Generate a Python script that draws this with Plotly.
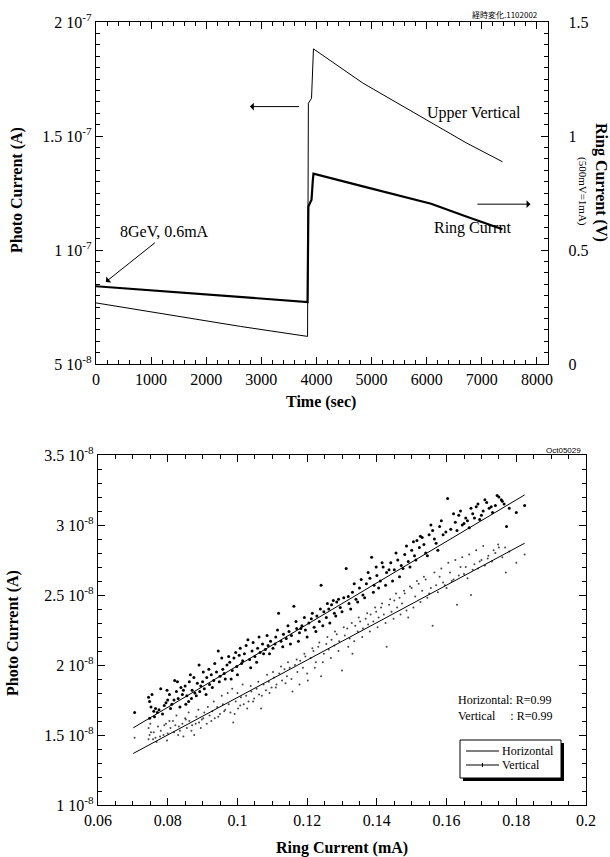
import numpy as np
import plotly.graph_objects as go

W, H = 610, 857
FONT = "Liberation Serif"


def px(x):
    return x / W


def py(y):
    return 1 - y / H


# ---------------- top chart data ----------------
time_sec = [0, 1060, 2616, 3838, 3853, 3910, 3932, 3945, 4842, 6079, 6716, 7374]
upper_vertical_A = [7.68e-8, 7.26e-8, 6.65e-8, 6.21e-8, 1.644e-7, 1.665e-7,
                    1.80e-7, 1.882e-7, 1.732e-7, 1.559e-7, 1.470e-7, 1.387e-7]
ring_current_V = [0.341, 0.322, 0.294, 0.272, 0.691, 0.720,
                  0.800, 0.835, 0.779, 0.703, 0.647, 0.591]

top_y_ticks = [5e-8, 1e-7, 1.5e-7, 2e-7]
top_y_labels = ["5 10<sup>-8</sup>", "1 10<sup>-7</sup>", "1.5 10<sup>-7</sup>", "2 10<sup>-7</sup>"]
top_x_ticks = [0, 1000, 2000, 3000, 4000, 5000, 6000, 7000, 8000]
right_ticks = [0, 0.5, 1, 1.5]
right_labels = ["0", "0.5", "1", "1.5"]

# ---------------- bottom chart data (photo current in units of 1e-8 A) ----------------
horiz_mA_a = [0.0705, 0.0745, 0.0748, 0.0752, 0.0760, 0.0765, 0.0770, 0.0780, 0.0790, 0.0795,
              0.0800, 0.0805, 0.0812, 0.0820, 0.0825, 0.0830, 0.0838, 0.0842, 0.0850, 0.0855,
              0.0860, 0.0865, 0.0870, 0.0878, 0.0885, 0.0890, 0.0895, 0.0900, 0.0905, 0.0912,
              0.0920, 0.0925, 0.0932, 0.0940, 0.0945, 0.0950, 0.0958, 0.0965, 0.0970, 0.0978,
              0.0985, 0.0990, 0.0998, 0.1005, 0.1012, 0.1020, 0.1030, 0.1035, 0.1042, 0.1050,
              0.1058, 0.1065, 0.1072, 0.1080, 0.1088, 0.1095, 0.1102, 0.1110, 0.1118, 0.1125,
              0.1132, 0.1140, 0.1148, 0.1155, 0.1162, 0.1170, 0.1178, 0.1185, 0.1195, 0.1205,
              0.1212, 0.1220, 0.1228, 0.1235, 0.1240, 0.1248, 0.1255, 0.1262, 0.1270, 0.1278,
              0.1285, 0.1295, 0.1305, 0.1312, 0.1320, 0.1330, 0.1340, 0.1350, 0.1360, 0.1370,
              0.1380, 0.1385, 0.1392, 0.1400, 0.1410, 0.1418, 0.1428, 0.1440, 0.1450, 0.1460,
              0.1470, 0.1480, 0.1490, 0.1500, 0.1508, 0.1515, 0.1522, 0.1530, 0.1540, 0.1550,
              0.1560, 0.1570, 0.1580, 0.1590, 0.1603, 0.1612, 0.1625, 0.1635, 0.1645, 0.1655,
              0.1665, 0.1675, 0.1685, 0.1695, 0.1705, 0.1715, 0.1722, 0.1732, 0.1740, 0.1750,
              0.1757, 0.1765, 0.1772, 0.1800, 0.1824]
horiz_pc_a = [1.66, 1.77, 1.74, 1.70, 1.67, 1.69, 1.66, 1.83, 1.71, 1.73,
              1.75, 1.79, 1.72, 1.89, 1.81, 1.76, 1.84, 1.79, 1.85, 1.78,
              1.74, 1.93, 1.82, 1.80, 1.87, 2.00, 1.85, 1.88, 1.83, 1.91,
              1.86, 1.93, 1.89, 1.95, 2.10, 1.92, 1.97, 1.90, 2.00, 2.02,
              1.96, 2.05, 1.99, 2.07, 2.01, 2.08, 2.18, 2.04, 2.10, 2.06,
              2.12, 2.09, 2.15, 2.11, 2.14, 2.17, 2.12, 2.20, 2.37, 2.17,
              2.22, 2.19, 2.24, 2.21, 2.42, 2.26, 2.23, 2.28, 2.25, 2.30,
              2.33, 2.27, 2.35, 2.31, 2.57, 2.38, 2.34, 2.40, 2.43, 2.37,
              2.45, 2.41, 2.48, 2.69, 2.44, 2.52, 2.47, 2.55, 2.50, 2.58,
              2.62, 2.77, 2.57, 2.64, 2.60, 2.70, 2.66, 2.73, 2.68, 2.75,
              2.71, 2.79, 2.74, 2.82, 2.78, 2.89, 2.84, 2.91, 2.80, 2.93,
              2.96, 2.87, 2.99, 2.93, 3.19, 2.97, 3.02, 3.07, 3.00, 3.05,
              2.98, 3.08, 3.13, 3.04, 3.10, 3.16, 3.12, 3.09, 3.14, 3.20,
              3.18, 3.15, 2.99, 3.09, 3.14]
horiz_mA_b = [0.0748, 0.0755, 0.0762, 0.0775, 0.0785, 0.0798, 0.0808, 0.0818, 0.0828, 0.0835,
              0.0845, 0.0852, 0.0862, 0.0868, 0.0875, 0.0882, 0.0892, 0.0902, 0.0910, 0.0918,
              0.0928, 0.0935, 0.0948, 0.0955, 0.0962, 0.0975, 0.0982, 0.0995, 0.1000, 0.1008,
              0.1015, 0.1025, 0.1038, 0.1045, 0.1055, 0.1062, 0.1075, 0.1085, 0.1092, 0.1108,
              0.1115, 0.1130, 0.1145, 0.1152, 0.1168, 0.1175, 0.1182, 0.1192, 0.1200, 0.1215,
              0.1225, 0.1238, 0.1245, 0.1258, 0.1265, 0.1275, 0.1282, 0.1290, 0.1300, 0.1318,
              0.1325, 0.1335, 0.1345, 0.1355, 0.1365, 0.1375, 0.1390, 0.1398, 0.1405, 0.1415,
              0.1425, 0.1435, 0.1445, 0.1455, 0.1465, 0.1475, 0.1485, 0.1495, 0.1505, 0.1512,
              0.1525, 0.1535, 0.1545, 0.1555, 0.1565, 0.1575, 0.1585, 0.1598, 0.1620, 0.1630,
              0.1640, 0.1650, 0.1660, 0.1670, 0.1680, 0.1690, 0.1700, 0.1710, 0.1728, 0.1745,
              0.1760, 0.1780]
horiz_pc_b = [1.62, 1.79, 1.63, 1.68, 1.65, 1.82, 1.69, 1.75, 1.88, 1.70,
              1.82, 1.72, 1.88, 1.76, 1.91, 1.78, 1.81, 1.95, 1.79, 1.97,
              1.84, 2.01, 1.88, 2.05, 1.94, 2.06, 1.90, 2.09, 1.93, 2.12,
              2.03, 2.14, 1.98, 2.16, 2.02, 2.20, 2.08, 2.21, 2.08, 2.15,
              2.25, 2.13, 2.28, 2.15, 2.31, 2.17, 2.26, 2.34, 2.20, 2.37,
              2.24, 2.40, 2.28, 2.44, 2.30, 2.46, 2.35, 2.47, 2.38, 2.49,
              2.40, 2.58, 2.45, 2.61, 2.48, 2.66, 2.52, 2.70, 2.55, 2.73,
              2.57, 2.68, 2.60, 2.80, 2.63, 2.69, 2.85, 2.70, 2.88, 2.75,
              2.92, 2.86, 2.78, 3.00, 2.90, 2.82, 3.03, 2.95, 3.08, 2.96,
              3.10, 3.01, 3.03, 3.12, 3.05, 3.15, 3.07, 3.18, 3.13, 3.21,
              3.17, 3.12]

vert_mA_a = [0.0705, 0.0745, 0.0748, 0.0752, 0.0758, 0.0765, 0.0772, 0.0780, 0.0788, 0.0795,
             0.0800, 0.0808, 0.0815, 0.0822, 0.0830, 0.0835, 0.0842, 0.0850, 0.0855, 0.0862,
             0.0870, 0.0876, 0.0882, 0.0890, 0.0898, 0.0905, 0.0912, 0.0920, 0.0928, 0.0935,
             0.0942, 0.0950, 0.0958, 0.0965, 0.0972, 0.0980, 0.0988, 0.0995, 0.1002, 0.1010,
             0.1018, 0.1025, 0.1032, 0.1040, 0.1048, 0.1055, 0.1062, 0.1068, 0.1075, 0.1082,
             0.1090, 0.1098, 0.1105, 0.1112, 0.1120, 0.1128, 0.1135, 0.1142, 0.1150, 0.1158,
             0.1165, 0.1172, 0.1180, 0.1188, 0.1195, 0.1202, 0.1210, 0.1218, 0.1225, 0.1232,
             0.1240, 0.1248, 0.1255, 0.1262, 0.1270, 0.1278, 0.1285, 0.1292, 0.1300, 0.1308,
             0.1315, 0.1322, 0.1330, 0.1338, 0.1345, 0.1352, 0.1360, 0.1368, 0.1375, 0.1382,
             0.1390, 0.1398, 0.1405, 0.1412, 0.1420, 0.1428, 0.1435, 0.1442, 0.1450, 0.1458,
             0.1465, 0.1472, 0.1480, 0.1490, 0.1500, 0.1510, 0.1520, 0.1530, 0.1540, 0.1550,
             0.1560, 0.1570, 0.1580, 0.1590, 0.1600, 0.1610, 0.1620, 0.1630, 0.1640, 0.1650,
             0.1660, 0.1670, 0.1680, 0.1690, 0.1700, 0.1710, 0.1720, 0.1730, 0.1740, 0.1750,
             0.1760, 0.1770, 0.1780, 0.1800, 0.1824]
vert_pc_a = [1.48, 1.55, 1.50, 1.52, 1.47, 1.48, 1.56, 1.53, 1.50, 1.58,
             1.51, 1.55, 1.60, 1.57, 1.50, 1.53, 1.58, 1.62, 1.55, 1.60,
             1.57, 1.50, 1.63, 1.59, 1.61, 1.66, 1.58, 1.64, 1.67, 1.62,
             1.70, 1.65, 1.72, 1.68, 1.80, 1.66, 1.59, 1.74, 1.69, 1.77,
             1.72, 1.78, 1.74, 1.81, 1.76, 1.83, 1.79, 1.69, 1.86, 1.82,
             1.88, 1.84, 1.91, 1.86, 1.94, 1.89, 1.97, 1.92, 1.98, 1.81,
             2.00, 1.95, 2.03, 1.98, 2.06, 1.89, 2.05, 2.10, 2.02, 2.13,
             1.92, 2.08, 2.15, 2.11, 2.18, 2.14, 2.22, 2.17, 1.96, 2.21,
             2.26, 2.19, 2.08, 2.28, 2.24, 2.31, 2.26, 2.33, 2.29, 2.36,
             2.31, 2.38, 2.34, 2.41, 2.36, 2.13, 2.43, 2.38, 2.46, 2.41,
             2.48, 2.44, 2.51, 2.34, 2.55, 2.49, 2.58, 2.53, 2.61, 2.51,
             2.28, 2.57, 2.63, 2.59, 2.55, 2.66, 2.61, 2.43, 2.70, 2.65,
             2.62, 2.50, 2.72, 2.69, 2.75, 2.71, 2.78, 2.74, 2.80, 2.84,
             2.77, 2.66, 2.81, 2.73, 2.79]
vert_mA_b = [0.0745, 0.0750, 0.0760, 0.0768, 0.0778, 0.0790, 0.0798, 0.0805, 0.0818, 0.0825,
             0.0832, 0.0845, 0.0852, 0.0860, 0.0868, 0.0880, 0.0888, 0.0895, 0.0902, 0.0915,
             0.0925, 0.0932, 0.0945, 0.0955, 0.0962, 0.0975, 0.0985, 0.0992, 0.1000, 0.1008,
             0.1015, 0.1028, 0.1038, 0.1045, 0.1060, 0.1070, 0.1085, 0.1092, 0.1102, 0.1110,
             0.1125, 0.1138, 0.1145, 0.1155, 0.1170, 0.1178, 0.1192, 0.1200, 0.1215, 0.1222,
             0.1235, 0.1245, 0.1258, 0.1268, 0.1280, 0.1290, 0.1305, 0.1318, 0.1328, 0.1335,
             0.1348, 0.1358, 0.1372, 0.1380, 0.1395, 0.1402, 0.1415, 0.1425, 0.1438, 0.1448,
             0.1455, 0.1468, 0.1478, 0.1485, 0.1495, 0.1505, 0.1515, 0.1525, 0.1535, 0.1545,
             0.1555, 0.1565, 0.1575, 0.1585, 0.1595, 0.1605, 0.1615, 0.1625, 0.1635, 0.1645,
             0.1655, 0.1665, 0.1675, 0.1685, 0.1695, 0.1705, 0.1718, 0.1735, 0.1748, 0.1768]
vert_pc_b = [1.47, 1.58, 1.52, 1.45, 1.49, 1.57, 1.46, 1.60, 1.52, 1.64,
             1.56, 1.49, 1.61, 1.66, 1.53, 1.58, 1.68, 1.55, 1.62, 1.70,
             1.60, 1.74, 1.63, 1.78, 1.67, 1.72, 1.83, 1.65, 1.80, 1.71,
             1.86, 1.69, 1.85, 1.74, 1.88, 1.78, 1.93, 1.80, 1.95, 1.84,
             1.99, 1.87, 2.02, 1.90, 2.04, 1.86, 2.08, 1.94, 2.12, 1.98,
             2.16, 2.02, 2.20, 2.05, 2.24, 2.10, 2.27, 2.13, 2.30, 2.17,
             2.34, 2.20, 2.37, 2.24, 2.41, 2.27, 2.44, 2.30, 2.47, 2.33,
             2.51, 2.36, 2.53, 2.39, 2.56, 2.41, 2.60, 2.45, 2.63, 2.48,
             2.55, 2.66, 2.52, 2.69, 2.57, 2.73, 2.60, 2.75, 2.64, 2.77,
             2.70, 2.79, 2.68, 2.82, 2.74, 2.85, 2.76, 2.82, 2.86, 2.84]

fit_mA = [0.0701, 0.1824]
fit_horiz_pc = [1.551, 3.215]
fit_vert_pc = [1.368, 2.870]

bot_y_ticks = [1e-8, 1.5e-8, 2e-8, 2.5e-8, 3e-8, 3.5e-8]
bot_y_labels = ["1 10<sup>-8</sup>", "1.5 10<sup>-8</sup>", "2 10<sup>-8</sup>",
                "2.5 10<sup>-8</sup>", "3 10<sup>-8</sup>", "3.5 10<sup>-8</sup>"]
bot_x_ticks = [0.06, 0.08, 0.10, 0.12, 0.14, 0.16, 0.18, 0.20]
bot_x_labels = ["0.06", "0.08", "0.1", "0.12", "0.14", "0.16", "0.18", "0.2"]

UNIT = 1e-8
fig = go.Figure()

# top chart traces
fig.add_trace(go.Scatter(x=time_sec, y=upper_vertical_A, mode="lines", name="Upper Vertical",
                         line=dict(color="black", width=1), showlegend=False,
                         xaxis="x", yaxis="y"))
fig.add_trace(go.Scatter(x=time_sec, y=ring_current_V, mode="lines", name="Ring Currnt",
                         line=dict(color="black", width=2.2), showlegend=False,
                         xaxis="x", yaxis="y2"))

# bottom chart traces
fig.add_trace(go.Scatter(x=horiz_mA_a + horiz_mA_b,
                         y=np.array(horiz_pc_a + horiz_pc_b) * UNIT, mode="markers",
                         name="Horizontal", marker=dict(color="black", size=3),
                         showlegend=False, xaxis="x2", yaxis="y3"))
fig.add_trace(go.Scatter(x=vert_mA_a + vert_mA_b,
                         y=np.array(vert_pc_a + vert_pc_b) * UNIT, mode="markers",
                         name="Vertical", marker=dict(color="#444444", size=2),
                         showlegend=False, xaxis="x2", yaxis="y3"))
fig.add_trace(go.Scatter(x=fit_mA, y=np.array(fit_horiz_pc) * UNIT, mode="lines",
                         line=dict(color="black", width=1), name="Horizontal fit",
                         showlegend=False, xaxis="x2", yaxis="y3"))
fig.add_trace(go.Scatter(x=fit_mA, y=np.array(fit_vert_pc) * UNIT, mode="lines",
                         line=dict(color="black", width=1), name="Vertical fit",
                         showlegend=False, xaxis="x2", yaxis="y3"))

axis_common = dict(showline=True, linecolor="black", linewidth=1.3, ticks="inside",
                   tickcolor="black", ticklen=7, tickwidth=1, showgrid=False,
                   zeroline=False, automargin=False,
                   tickfont=dict(family=FONT, size=16, color="black"))


def minor(dt):
    return dict(tickmode="linear", tick0=0, dtick=dt, ticks="inside",
                ticklen=4, tickcolor="black", showgrid=False)


fig.update_layout(
    width=W, height=H, margin=dict(l=0, r=0, t=0, b=0, autoexpand=False),
    paper_bgcolor="white", plot_bgcolor="white",
    font=dict(family=FONT, color="black"),
    showlegend=False,
    xaxis=dict(domain=[px(96), px(548)], range=[0, 8200], anchor="y",
               tickmode="array", tickvals=top_x_ticks, mirror="ticks",
               minor=minor(200), **axis_common),
    yaxis=dict(domain=[py(364), py(22)], range=[5e-8, 2e-7], anchor="x",
               tickmode="array", tickvals=top_y_ticks, ticktext=top_y_labels,
               mirror=False, minor=minor(5e-9), **axis_common),
    yaxis2=dict(overlaying="y", side="right", anchor="x", range=[0, 1.5],
                tickmode="array", tickvals=right_ticks, ticktext=right_labels,
                ticklabelstandoff=16, minor=minor(0.05), **axis_common),
    xaxis2=dict(domain=[px(98), px(586)], range=[0.06, 0.2], anchor="y3",
                tickmode="array", tickvals=bot_x_ticks, ticktext=bot_x_labels,
                mirror="ticks", minor=minor(0.005), **axis_common),
    yaxis3=dict(domain=[py(805), py(455)], range=[1e-8, 3.5e-8], anchor="x2",
                tickmode="array", tickvals=bot_y_ticks, ticktext=bot_y_labels,
                mirror="ticks", minor=minor(1e-9), **axis_common),
)

# manual legend box with drop shadow
shapes = [
    dict(type="rect", xref="paper", yref="paper", x0=px(463), x1=px(564),
         y0=py(781), y1=py(743), fillcolor="black", line=dict(width=0), layer="above"),
    dict(type="rect", xref="paper", yref="paper", x0=px(460), x1=px(561),
         y0=py(778), y1=py(740), fillcolor="white", line=dict(color="black", width=1),
         layer="above"),
    dict(type="line", xref="paper", yref="paper", x0=px(466), x1=px(499),
         y0=py(751), y1=py(751), line=dict(color="black", width=1), layer="above"),
    dict(type="line", xref="paper", yref="paper", x0=px(466), x1=px(499),
         y0=py(765), y1=py(765), line=dict(color="black", width=1), layer="above"),
    dict(type="line", xref="paper", yref="paper", x0=px(482.5), x1=px(482.5),
         y0=py(763), y1=py(767), line=dict(color="black", width=1), layer="above"),
]
fig.update_layout(shapes=shapes)

ann = []


def text(x, y, s, size=16, bold=False, angle=0, family=FONT, xanchor="center", align="center"):
    ann.append(dict(x=px(x), y=py(y), xref="paper", yref="paper",
                    text=(f"<b>{s}</b>" if bold else s),
                    showarrow=False, textangle=angle, xanchor=xanchor, yanchor="middle",
                    align=align, borderpad=0,
                    font=dict(family=family, size=size, color="black")))


# top titles
text(17, 190, "Photo Current (A)", 16, True, -90)
text(601, 182, "Ring Current (V)", 16, True, 90)
text(583, 191, "(500mV=1mA)", 11, False, 90)
text(321, 402, "Time (sec)", 16, True)
text(505, 15, "経時変化.1102002", 8, family="Noto Sans CJK JP")
# bottom titles
text(13, 633, "Photo Current (A)", 16, True, -90)
text(342, 848, "Ring Current (mA)", 16, True)
text(563, 450, "Oct05029", 8, family="Liberation Sans")
text(457, 708, "Horizontal: R=0.99<br>Vertical\u00a0\u00a0\u00a0\u00a0\u00a0: R=0.99", 12,
     xanchor="left", align="left")
# legend texts
text(501, 751, "Horizontal", 12, xanchor="left")
text(501, 765, "Vertical", 12, xanchor="left")

# top annotations in data coords
for s, x, y in [("8GeV, 0.6mA", 1237, 1.081e-7), ("Upper Vertical", 6857, 1.600e-7),
                ("Ring Currnt", 6822, 1.096e-7)]:
    ann.append(dict(x=x, y=y, xref="x", yref="y", text=s, showarrow=False,
                    font=dict(family=FONT, size=16, color="black")))

for (hx, hy, tx, ty) in [(177, 8.6e-8, 1096, 1.037e-7), (2792, 1.629e-7, 3711, 1.629e-7),
                         (7882, 1.201e-7, 6892, 1.201e-7)]:
    ann.append(dict(x=hx, y=hy, ax=tx, ay=ty, xref="x", yref="y", axref="x", ayref="y",
                    text="", showarrow=True, arrowhead=1, arrowsize=1.3, arrowwidth=1,
                    arrowcolor="black"))

fig.update_layout(annotations=ann)

fig.write_html("out.html",
               config={"displayModeBar": False, "staticPlot": True},
               post_script="document.body.style.margin='0px';"
                           "document.body.style.overflow='hidden';")
